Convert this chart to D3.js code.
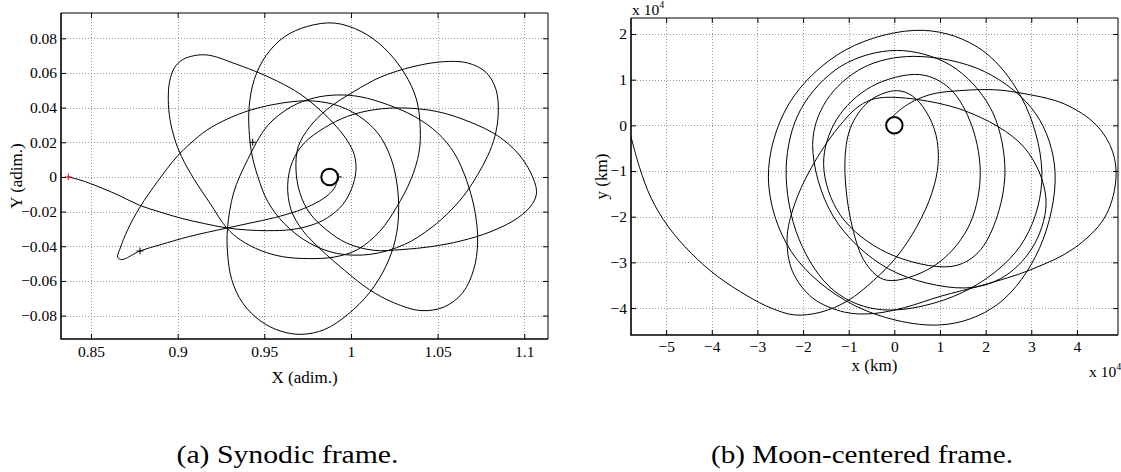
<!DOCTYPE html>
<html><head><meta charset="utf-8">
<script src="https://cdn.jsdelivr.net/npm/d3@7"></script>
<style>
body{margin:0;background:#fff;}
svg{display:block;font-family:"Liberation Serif","Times New Roman",serif;}
</style></head><body>
<svg id="fig" width="1121" height="472"></svg>
<script>
const SERIF = '"Liberation Serif","Times New Roman",serif';

// ---------- (a) synodic frame, adimensional units ----------
const synXTicks = [0.85, 0.9, 0.95, 1, 1.05, 1.1];
const synYTicks = [-0.08, -0.06, -0.04, -0.02, 0, 0.02, 0.04, 0.06, 0.08];
const synXDomain = [0.8327, 1.1137];
const synYDomain = [-0.0935, 0.0946];
const synTrack = [
  [0.8369,0.0000],[0.8442,-0.0019],[0.8558,-0.0062],[0.8673,-0.0112],[0.8779,-0.0163],[0.8904,-0.0204],
  [0.9019,-0.0238],[0.9154,-0.0269],[0.9283,-0.0294],
  [0.9404,-0.0306],[0.9519,-0.0310],[0.9654,-0.0304],[0.9769,-0.0279],[0.9865,-0.0235],[0.9952,-0.0160],
  [1.0004,-0.0067],[1.0029,0.0038],[1.0019,0.0129],[0.9981,0.0206],[0.9917,0.0290],[0.9821,0.0387],
  [0.9706,0.0479],[0.9577,0.0552],[0.9442,0.0612],[0.9308,0.0662],[0.9231,0.0690],[0.9167,0.0704],
  [0.9096,0.0700],[0.9029,0.0677],[0.8981,0.0629],[0.8954,0.0552],[0.8946,0.0446],[0.8956,0.0331],
  [0.8981,0.0225],[0.9023,0.0117],[0.9096,-0.0015],[0.9187,-0.0152],[0.9283,-0.0294],
  [0.9365,-0.0365],[0.9481,-0.0425],[0.9606,-0.0460],[0.9756,-0.0471],[0.9904,-0.0462],[1.0038,-0.0419],
  [1.0167,-0.0313],[1.0263,-0.0175],[1.0346,-0.0015],[1.0392,0.0138],[1.0400,0.0273],[1.0379,0.0444],
  [1.0308,0.0600],[1.0192,0.0744],[1.0058,0.0840],[0.9904,0.0888],
  [0.9750,0.0869],[0.9615,0.0808],[0.9510,0.0700],[0.9442,0.0562],[0.9413,0.0408],[0.9412,0.0273],
  [0.9427,0.0138],[0.9462,0.0004],[0.9519,-0.0140],[0.9615,-0.0269],[0.9760,-0.0381],
  [0.9923,-0.0442],[1.0115,-0.0446],[1.0308,-0.0390],[1.0462,-0.0294],[1.0577,-0.0192],[1.0663,-0.0092],
  [1.0731,0.0013],[1.0788,0.0119],[1.0831,0.0235],[1.0850,0.0369],[1.0837,0.0504],[1.0779,0.0604],
  [1.0673,0.0658],[1.0533,0.0665],
  [1.0365,0.0638],[1.0173,0.0577],[1.0019,0.0494],[0.9865,0.0392],[0.9763,0.0290],[0.9696,0.0175],
  [0.9683,0.0040],[0.9706,-0.0094],[0.9763,-0.0210],[0.9860,-0.0306],[0.9975,-0.0381],[1.0129,-0.0423],
  [1.0294,-0.0419],[1.0462,-0.0402],[1.0635,-0.0369],[1.0808,-0.0315],[1.0962,-0.0237],[1.1048,-0.0154],
  [1.1071,-0.0085],
  [1.1038,0.0023],[1.0962,0.0138],[1.0846,0.0238],[1.0692,0.0315],[1.0500,0.0377],[1.0302,0.0398],
  [1.0135,0.0388],[0.9981,0.0350],[0.9846,0.0283],[0.9731,0.0196],[0.9663,0.0090],[0.9635,-0.0044],
  [0.9654,-0.0188],[0.9721,-0.0308],[0.9827,-0.0419],
  [0.9962,-0.0538],[1.0106,-0.0650],[1.0250,-0.0727],[1.0404,-0.0771],[1.0538,-0.0750],[1.0644,-0.0669],
  [1.0708,-0.0535],[1.0731,-0.0381],[1.0717,-0.0208],[1.0669,-0.0025],[1.0596,0.0138],[1.0500,0.0254],
  [1.0365,0.0350],[1.0212,0.0417],[1.0058,0.0462],[0.9923,0.0473],[0.9788,0.0456],[0.9654,0.0404],
  [0.9519,0.0296],[0.9404,0.0100],[0.9323,-0.0092],[0.9288,-0.0294],
  [0.9288,-0.0438],[0.9312,-0.0592],[0.9375,-0.0727],[0.9481,-0.0833],[0.9596,-0.0890],[0.9712,-0.0908],
  [0.9846,-0.0881],[0.9981,-0.0794],[1.0106,-0.0669],[1.0202,-0.0515],[1.0256,-0.0362],[1.0275,-0.0208],
  [1.0265,-0.0035],[1.0227,0.0119],[1.0154,0.0254],[1.0048,0.0350],[0.9923,0.0412],[0.9788,0.0438],
  [0.9667,0.0435],
  [0.9538,0.0415],[0.9417,0.0385],[0.9288,0.0335],[0.9167,0.0269],[0.9077,0.0196],[0.8994,0.0115],
  [0.8885,-0.0025],[0.8783,-0.0173],[0.8712,-0.0304],[0.8669,-0.0410],[0.8654,-0.0463],[0.8677,-0.0477],
  [0.8783,-0.0427],
  [0.8904,-0.0390],[0.9058,-0.0346],[0.9173,-0.0319],[0.9288,-0.0294],[0.9423,-0.0265],[0.9558,-0.0235],
  [0.9692,-0.0196],[0.9798,-0.0150],[0.9871,-0.0102],[0.9908,-0.0058],[0.9919,-0.0025]
];
const synStart = [0.8369, 0];
const synMarks = [[0.8783, -0.0427], [0.9433, 0.0200], [0.9927, 0]];
const synMoon = {x: 0.9877, y: 0, r: 0.0048};

// ---------- (b) Moon-centred frame, units of 10^4 km ----------
const mcXTicks = [-5, -4, -3, -2, -1, 0, 1, 2, 3, 4];
const mcYTicks = [-4, -3, -2, -1, 0, 1, 2];
const mcXDomain = [-5.77, 4.90];
const mcYDomain = [-4.59, 2.35];
const mcTrack = [
  // arrival arc from the L1 side
  [-5.77,-0.25],[-5.58,-0.93],[-5.33,-1.59],[-4.96,-2.21],[-4.45,-2.80],[-3.87,-3.31],[-3.21,-3.74],
  [-2.70,-4.00],[-2.19,-4.15],[-1.61,-4.09],[-1.02,-3.84],[-0.46,-3.40],[0.05,-2.88],[0.49,-2.22],
  [0.82,-1.49],[0.96,-0.83],[0.91,-0.20],[0.69,0.31],[0.40,0.64],[0.05,0.76],
  // revolutions
  [-0.51,0.56],[-0.93,0.02],[-1.08,-0.72],[-0.96,-2.05],[-0.62,-3.03],[-0.17,-3.39],[0.85,-3.09],
  [1.60,-2.27],[1.88,-1.15],[1.70,-0.02],[1.22,0.80],[0.56,1.11],
  [-0.50,0.85],[-1.27,0.12],[-1.55,-0.86],[-1.18,-1.97],[-0.16,-2.79],[1.24,-3.09],[1.83,-2.79],
  [2.26,-1.97],[2.42,-0.86],[2.10,0.39],[1.24,1.31],[0.05,1.64],
  [-1.16,1.30],[-2.05,0.35],[-2.37,-0.93],[-2.09,-2.49],[-1.31,-3.63],[-0.24,-4.04],[1.49,-3.66],
  [2.76,-2.64],[3.23,-1.23],[2.88,0.42],[1.93,1.64],[0.64,2.08],
  [-1.07,1.65],[-2.31,0.47],[-2.76,-1.15],[-2.26,-2.76],[-0.88,-3.94],[1.00,-4.37],[2.26,-3.92],
  [3.18,-2.69],[3.52,-1.01],[3.10,0.25],[1.97,1.18],[0.42,1.51],
  [-0.69,1.26],[-1.49,0.54],[-1.79,-0.42],[-1.34,-1.99],[-0.13,-3.14],[1.53,-3.56],[2.42,-3.30],
  [3.08,-2.58],[3.32,-1.59],[2.85,-0.49],[1.54,0.32],[-0.24,0.61],
  // last wide revolution and final approach
  [-0.73,0.45],[-1.24,-0.06],[-1.82,-0.93],[-2.19,-1.74],[-2.35,-2.47],[-2.23,-3.20],[-1.79,-3.78],
  [-1.09,-4.09],[-0.46,-4.12],[0.22,-3.99],[1.02,-3.74],[1.97,-3.49],[2.99,-3.16],[3.94,-2.69],
  [4.60,-2.03],[4.85,-1.23],[4.78,-0.57],[4.42,0.01],[3.72,0.47],[2.75,0.71],[2.17,0.78],
  [1.44,0.76],[0.85,0.69],[0.44,0.54],[0.15,0.36],[-0.07,0.16]
];
const mcMoon = {x: 0, y: 0, r: 0.18};

const captions = ["(a) Synodic frame.", "(b) Moon-centered frame."];

const svg = d3.select("#fig");
const minus = v => String(v).replace("-", "\u2212");

function panel(cfg) {
  const {left, top, right, bottom} = cfg.box;
  const x = d3.scaleLinear().domain(cfg.xDomain).range([left, right]);
  const y = d3.scaleLinear().domain(cfg.yDomain).range([bottom, top]);
  const g = svg.append("g");

  // dotted grid
  const grid = g.append("g").attr("stroke", "#9a9a9a").attr("stroke-width", 1)
    .attr("stroke-dasharray", "1,2").attr("shape-rendering", "crispEdges");
  grid.selectAll(".gx").data(cfg.xTicks).join("line")
    .attr("x1", d => Math.round(x(d)) + 0.5).attr("x2", d => Math.round(x(d)) + 0.5)
    .attr("y1", top).attr("y2", bottom);
  grid.selectAll(".gy").data(cfg.yTicks).join("line")
    .attr("y1", d => Math.round(y(d)) + 0.5).attr("y2", d => Math.round(y(d)) + 0.5)
    .attr("x1", left).attr("x2", right);

  // trajectory
  const line = d3.line().x(d => x(d[0])).y(d => y(d[1])).curve(d3.curveCatmullRom.alpha(0.5));
  g.append("path").datum(cfg.track).attr("d", line)
    .attr("fill", "none").attr("stroke", "#000").attr("stroke-width", 1);

  // '+' markers
  const cross = (p, color) => {
    const cx = x(p[0]), cy = y(p[1]), s = 3.5;
    g.append("path").attr("d", `M${cx - s},${cy}H${cx + s}M${cx},${cy - s}V${cy + s}`)
      .attr("stroke", color).attr("stroke-width", 1).attr("fill", "none");
  };
  (cfg.marks || []).forEach(p => cross(p, "#000"));
  if (cfg.start) cross(cfg.start, "#ff0000");

  // Moon disc, drawn over the track end
  g.append("ellipse").attr("cx", x(cfg.moon.x)).attr("cy", y(cfg.moon.y))
    .attr("rx", Math.abs(x(cfg.moon.r) - x(0))).attr("ry", Math.abs(y(cfg.moon.r) - y(0)))
    .attr("fill", "#fff").attr("stroke", "#000").attr("stroke-width", 2);

  // axes: ticks pointing inward on all four sides
  const ax = (axis, tx, ty) => g.append("g").attr("transform", `translate(${tx},${ty})`).call(axis)
    .attr("font-family", SERIF)
    .call(s => s.select(".domain").remove())
    .call(s => s.selectAll("text").attr("font-family", SERIF).attr("font-size", 15.5).attr("fill", "#000"));
  ax(d3.axisBottom(x).tickValues(cfg.xTicks).tickSizeInner(-5).tickSizeOuter(0).tickPadding(cfg.xPad).tickFormat(minus), 0, bottom);
  ax(d3.axisLeft(y).tickValues(cfg.yTicks).tickSizeInner(-5).tickSizeOuter(0).tickPadding(4).tickFormat(minus), left, 0);
  ax(d3.axisTop(x).tickValues(cfg.xTicks).tickSizeInner(-5).tickSizeOuter(0).tickFormat(""), 0, top);
  ax(d3.axisRight(y).tickValues(cfg.yTicks).tickSizeInner(-5).tickSizeOuter(0).tickFormat(""), right, 0);

  // box
  g.append("path").attr("d", `M${left},${top}H${right}V${bottom}`).attr("fill", "none")
    .attr("stroke", "#000").attr("stroke-width", 1);
  g.append("path").attr("d", `M${left},${top}V${bottom}H${right}`).attr("fill", "none")
    .attr("stroke", "#000").attr("stroke-width", 1.6);

  // axis titles
  g.append("text").attr("x", (left + right) / 2).attr("y", cfg.xTitleY).attr("text-anchor", "middle")
    .attr("dominant-baseline", "central").attr("font-family", SERIF).attr("font-size", 17).text(cfg.xTitle);
  g.append("text").attr("transform", `translate(${cfg.yTitleX},${(top + bottom) / 2}) rotate(-90)`)
    .attr("text-anchor", "middle").attr("dominant-baseline", "central")
    .attr("font-family", SERIF).attr("font-size", 17).text(cfg.yTitle);
  return {x, y};
}

panel({
  box: {left: 61, top: 13, right: 548, bottom: 339},
  xDomain: synXDomain, yDomain: synYDomain, xTicks: synXTicks, yTicks: synYTicks,
  track: synTrack, moon: synMoon, start: synStart, marks: synMarks,
  xTitle: "X (adim.)", yTitle: "Y (adim.)", xTitleY: 377, yTitleX: 16, xPad: 7
});

panel({
  box: {left: 631, top: 18, right: 1118, bottom: 335},
  xDomain: mcXDomain, yDomain: mcYDomain, xTicks: mcXTicks, yTicks: mcYTicks,
  track: mcTrack, moon: mcMoon,
  xTitle: "x (km)", yTitle: "y (km)", xTitleY: 365, yTitleX: 601, xPad: 6
});

// exponent labels of the Moon-centred axes
const expo = (tx, ty) => {
  const t = svg.append("text").attr("x", tx).attr("y", ty).attr("font-family", SERIF).attr("font-size", 15.5);
  t.append("tspan").text("x 10");
  t.append("tspan").attr("dy", -7).attr("font-size", 10).text("4");
};
expo(632, 15);
expo(1089, 377);

// sub-figure captions
svg.selectAll(".cap").data(captions).join("text")
  .attr("x", (d, i) => i === 0 ? 287.5 : 862)
  .attr("y", 463)
  .attr("text-anchor", "middle")
  .attr("font-family", SERIF)
  .attr("font-size", 26)
  .attr("textLength", (d, i) => i === 0 ? 222 : 302)
  .attr("lengthAdjust", "spacingAndGlyphs")
  .text(d => d);
</script>
</body></html>
